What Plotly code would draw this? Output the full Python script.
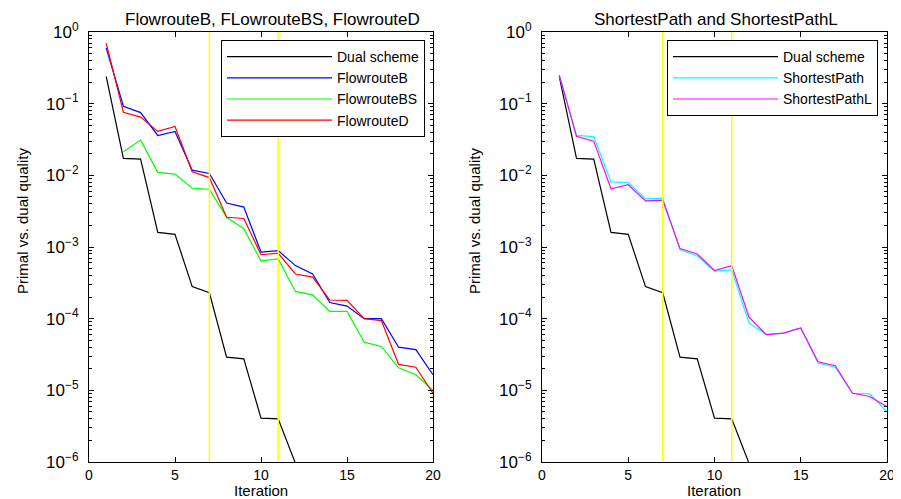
import plotly.graph_objects as go

# ---------------- data ----------------
iters = list(range(1, 21))

dual_iters = list(range(1, 13))
dual_scheme = [0.24, 0.0172, 0.0168, 1.6e-3, 1.5e-3, 2.8e-4, 2.3e-4, 2.9e-5, 2.75e-5,
               4.1e-6, 4.0e-6, 9.6e-7]

flowroute_b = [0.60, 0.092, 0.075, 0.036, 0.041, 0.0118, 0.0106, 0.0041, 0.0036, 8.5e-4,
               8.9e-4, 5.5e-4, 4.2e-4, 1.68e-4, 1.5e-4, 1.0e-4, 1.0e-4, 4.0e-5, 3.7e-5, 1.65e-5]
flowroute_d = [0.70, 0.076, 0.065, 0.041, 0.048, 0.0112, 0.0093, 0.0026, 0.0025, 7.8e-4,
               8.2e-4, 4.2e-4, 3.8e-4, 1.82e-4, 1.8e-4, 1.0e-4, 9.4e-5, 2.3e-5, 2.1e-5, 9.1e-6]
bs_iters = list(range(2, 21))
flowroute_bs = [0.0214, 0.031, 0.011, 0.0104, 0.0066, 0.0064, 0.0026, 0.0018, 6.4e-4,
                6.8e-4, 2.4e-4, 2.15e-4, 1.26e-4, 1.26e-4, 4.7e-5, 4.1e-5, 2.06e-5, 1.65e-5, 1.0e-5]

shortest_path = [0.25, 0.036, 0.0347, 0.0081, 0.0079, 0.0047, 0.0048, 9.2e-4, 7.5e-4, 4.6e-4,
                 4.8e-4, 8.7e-5, 6.0e-5, 6.3e-5, 7.4e-5, 2.4e-5, 2.1e-5, 9.1e-6, 8.9e-6, 5.0e-6]
shortest_path_l = [0.25, 0.035, 0.030, 0.0065, 0.0074, 0.0044, 0.0045, 9.5e-4, 8.0e-4, 4.7e-4,
                   5.5e-4, 1.05e-4, 6.0e-5, 6.3e-5, 7.4e-5, 2.5e-5, 2.2e-5, 9.1e-6, 8.2e-6, 5.9e-6]

marker_iters = [7, 11]

x_ticks = [0, 5, 10, 15, 20]
y_tickvals = [1e-6, 1e-5, 1e-4, 1e-3, 1e-2, 1e-1, 1]
y_ticktext = ["10<sup>\u22126</sup>", "10<sup>\u22125</sup>", "10<sup>\u22124</sup>",
              "10<sup>\u22123</sup>", "10<sup>\u22122</sup>", "10<sup>\u22121</sup>",
              "10<sup>0</sup>"]

title_left = "FlowrouteB, FLowrouteBS, FlowrouteD"
title_right = "ShortestPath and ShortestPathL"
x_label = "Iteration"
y_label = "Primal vs. dual quality"

# ---------------- figure ----------------
FONT = "Liberation Sans, Arial, Helvetica, sans-serif"
PAGE_PAD = 8                      # default body margin of the page
W, H = 901, 499


def px(x):
    return (x - PAGE_PAD) / W


def py(y):
    return 1 - (y - PAGE_PAD) / H


fig = go.Figure()


def add_line(x, y, name, color, xa, ya, legend):
    fig.add_trace(go.Scatter(x=x, y=y, mode="lines", name=name,
                             line=dict(color=color, width=1.2),
                             xaxis=xa, yaxis=ya, legend=legend))


add_line(dual_iters, dual_scheme, "Dual scheme", "#000000", "x", "y", "legend")
add_line(iters, flowroute_b, "FlowrouteB", "#0000ff", "x", "y", "legend")
add_line(bs_iters, flowroute_bs, "FlowrouteBS", "#00ff00", "x", "y", "legend")
add_line(iters, flowroute_d, "FlowrouteD", "#ff0000", "x", "y", "legend")

add_line(dual_iters, dual_scheme, "Dual scheme", "#000000", "x2", "y2", "legend2")
add_line(iters, shortest_path, "ShortestPath", "#00ffff", "x2", "y2", "legend2")
add_line(iters, shortest_path_l, "ShortestPathL", "#ff00ff", "x2", "y2", "legend2")

for xr, yr in (("x", "y domain"), ("x2", "y2 domain")):
    for it in marker_iters:
        fig.add_shape(type="line", xref=xr, yref=yr, x0=it, x1=it, y0=0, y1=1,
                      line=dict(color="#ffff00", width=1.5), layer="above")

minor_vals = [k * 10.0 ** e for e in range(-6, 0) for k in range(2, 10)]

xax = dict(range=[0, 20], tickvals=x_ticks, ticks="inside", ticklen=5,
           tickcolor="black", showline=True, linecolor="black", linewidth=1,
           mirror="ticks", showgrid=False, zeroline=False, automargin=False,
           ticklabelstandoff=0,
           tickfont=dict(family=FONT, size=14, color="black"))
yax = dict(type="log", range=[-6, 0], tickvals=y_tickvals, ticktext=y_ticktext,
           ticks="inside", ticklen=5, tickcolor="black", showline=True,
           linecolor="black", linewidth=1, mirror="ticks", showgrid=False,
           zeroline=False, ticklabelstandoff=6, automargin=False,
           minor=dict(ticks="inside", ticklen=3, tickmode="array", tickvals=minor_vals,
                      tickcolor="black", showgrid=False),
           tickfont=dict(family=FONT, size=17, color="black"),
           domain=[py(462), py(32)])

legend_style = dict(yanchor="top", xanchor="right", bgcolor="white",
                    bordercolor="black", borderwidth=1, itemwidth=105,
                    font=dict(family=FONT, size=14, color="black"))

fig.update_layout(
    width=W, height=H, autosize=False,
    margin=dict(l=0, r=0, t=0, b=0, autoexpand=False),
    paper_bgcolor="white", plot_bgcolor="white",
    xaxis=dict(xax, domain=[px(89), px(433)], anchor="y"),
    yaxis=dict(yax, anchor="x"),
    xaxis2=dict(xax, domain=[px(542), px(887)], anchor="y2"),
    yaxis2=dict(yax, anchor="x2"),
    legend=dict(legend_style, x=px(425), y=py(40)),
    legend2=dict(legend_style, x=px(878), y=py(40)),
    showlegend=True,
)


def ann(text, x, y, size, angle=0):
    fig.add_annotation(text=text, xref="paper", yref="paper", x=px(x), y=py(y),
                       xanchor="center", yanchor="middle", showarrow=False,
                       textangle=angle, font=dict(family=FONT, size=size, color="black"))


ann(title_left, 272, 19, 17)
ann(title_right, 716, 19, 17)
ann(x_label, 261, 490, 15)
ann(x_label, 714, 490, 15)
ann(y_label, 22, 221, 15, -90)
ann(y_label, 474, 221, 15, -90)

fig.write_html("out.html")
